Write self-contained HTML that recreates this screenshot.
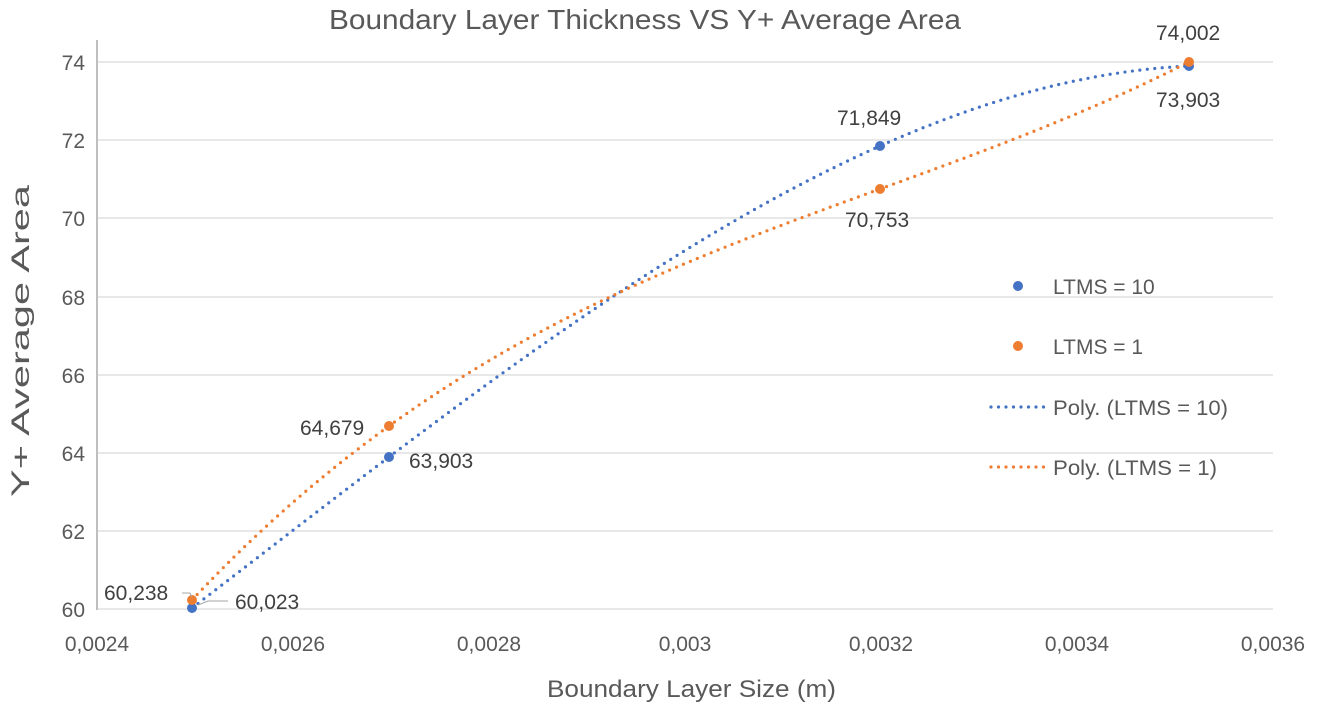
<!DOCTYPE html>
<html><head><meta charset="utf-8"><style>
body{margin:0;background:#fff;}
svg{display:block;font-family:"Liberation Sans",sans-serif;}
</style></head><body>
<svg id="s" width="1318" height="714" xmlns="http://www.w3.org/2000/svg">
<rect width="1318" height="714" fill="#fff"/>
<text x="329" y="29" font-size="28" fill="#595959" textLength="632" lengthAdjust="spacingAndGlyphs">Boundary Layer Thickness VS Y+ Average Area</text>
<g stroke="#d9d9d9" stroke-width="1.3">
<line x1="97" y1="62" x2="1273" y2="62"/>
<line x1="97" y1="140" x2="1273" y2="140"/>
<line x1="97" y1="218" x2="1273" y2="218"/>
<line x1="97" y1="297" x2="1273" y2="297"/>
<line x1="97" y1="375" x2="1273" y2="375"/>
<line x1="97" y1="453" x2="1273" y2="453"/>
<line x1="97" y1="531" x2="1273" y2="531"/>
<line x1="97" y1="609" x2="1273" y2="609"/>
</g>
<line x1="97" y1="40" x2="97" y2="610" stroke="#bfbfbf" stroke-width="2"/>
<g font-size="21" fill="#595959" text-anchor="end">
<text x="85" y="70">74</text><text x="85" y="148">72</text><text x="85" y="226">70</text>
<text x="85" y="305">68</text><text x="85" y="383">66</text><text x="85" y="461">64</text>
<text x="85" y="539">62</text><text x="85" y="617">60</text>
</g>
<g font-size="21" fill="#595959" text-anchor="middle">
<text x="97" y="651">0,0024</text><text x="293" y="651">0,0026</text><text x="489" y="651">0,0028</text>
<text x="685" y="651">0,003</text><text x="881" y="651">0,0032</text><text x="1077" y="651">0,0034</text>
<text x="1273" y="651">0,0036</text>
</g>
<text x="547" y="697" font-size="24" fill="#595959" textLength="289" lengthAdjust="spacingAndGlyphs">Boundary Layer Size (m)</text>
<text transform="translate(29,497) rotate(-90)" font-size="25" fill="#595959" textLength="312" lengthAdjust="spacingAndGlyphs">Y+ Average Area</text>
<path id="pb" fill="none" stroke="#4472c4" stroke-width="3.2" stroke-linecap="round" stroke-dasharray="0 7.5"/>
<path id="po" fill="none" stroke="#ed7d31" stroke-width="3.2" stroke-linecap="round" stroke-dasharray="0 7.5"/>
<g fill="#4472c4">
<circle cx="192" cy="608" r="5"/><circle cx="389" cy="457" r="5"/><circle cx="880" cy="146" r="5"/><circle cx="1189" cy="66" r="5"/>
</g>
<g fill="#ed7d31">
<circle cx="192" cy="600" r="5"/><circle cx="389" cy="426" r="5"/><circle cx="880" cy="189" r="5"/><circle cx="1189" cy="62" r="5"/>
</g>
<polyline points="182,593 190,593 192,597" fill="none" stroke="#a6a6a6" stroke-width="1"/>
<polyline points="198,605 208,601 228,601" fill="none" stroke="#a6a6a6" stroke-width="1"/>
<g font-size="21" fill="#404040">
<text x="104" y="600">60,238</text>
<text x="235" y="609">60,023</text>
<text x="300" y="435">64,679</text>
<text x="409" y="468">63,903</text>
<text x="837" y="125">71,849</text>
<text x="845" y="227">70,753</text>
<text x="1156" y="40">74,002</text>
<text x="1156" y="107">73,903</text>
</g>
<circle cx="1018" cy="286" r="5" fill="#4472c4"/>
<circle cx="1018" cy="346" r="5" fill="#ed7d31"/>
<line x1="991" y1="407" x2="1047" y2="407" stroke="#4472c4" stroke-width="3.2" stroke-linecap="round" stroke-dasharray="0 7.5"/>
<line x1="991" y1="467" x2="1047" y2="467" stroke="#ed7d31" stroke-width="3.2" stroke-linecap="round" stroke-dasharray="0 7.5"/>
<g font-size="21" fill="#595959">
<text x="1053" y="294">LTMS = 10</text>
<text x="1053" y="354">LTMS = 1</text>
<text x="1053" y="415" textLength="175" lengthAdjust="spacingAndGlyphs">Poly. (LTMS = 10)</text>
<text x="1053" y="475" textLength="164" lengthAdjust="spacingAndGlyphs">Poly. (LTMS = 1)</text>
</g>
<script>
function lag(P){var d="";for(var x=P[0][0];x<=P[3][0];x+=2){var y=0;for(var i=0;i<4;i++){var t=P[i][1];for(var j=0;j<4;j++)if(j!=i)t*=(x-P[j][0])/(P[i][0]-P[j][0]);y+=t;}d+=(d?"L":"M")+x.toFixed(1)+","+y.toFixed(1);}return d;}
document.getElementById("pb").setAttribute("d",lag([[192,608],[389,457],[880,146],[1189,66]]));
document.getElementById("po").setAttribute("d",lag([[192,600],[389,426],[880,189],[1189,62]]));
</script>
</svg>
</body></html>
